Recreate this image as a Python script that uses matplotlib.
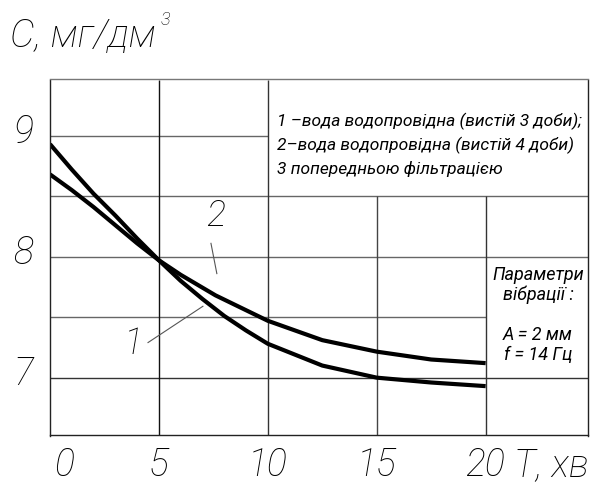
import numpy as np
import matplotlib
matplotlib.use("Agg")
import matplotlib.pyplot as plt
from matplotlib.transforms import ScaledTranslation

# Шрифт (тонкий курсив, ближче до креслярського)
plt.rcParams['font.family'] = ['Roboto', 'DejaVu Sans']
plt.rcParams['font.style'] = 'italic'
plt.rcParams['font.weight'] = 'light'

# Дані
t1 = [0, 1, 2, 3, 4, 5, 6, 7, 8, 9, 10, 12.5, 15, 17.5, 20]
c1 = [8.93, 8.72, 8.52, 8.34, 8.15, 7.97, 7.80, 7.65, 7.51, 7.39, 7.28, 7.10, 7.00, 6.96, 6.93]
t2 = [0, 1, 2, 3, 4, 5, 6, 7.6, 10, 12.5, 15, 17.5, 20]
c2 = [8.68, 8.55, 8.41, 8.26, 8.11, 7.97, 7.85, 7.68, 7.47, 7.31, 7.215, 7.15, 7.12]

x_ticks = [0, 5, 10, 15, 20]
x_labels = ["0", "5", "10", "15", "20"]
y_ticks = [7, 8, 9]
y_labels = ["7", "8", "9"]

legend_lines = ["1 –вода водопровідна (вистій 3 доби);",
                "2–вода водопровідна (вистій 4 доби)",
                "3 попередньою фільтрацією"]
param_lines = ["Параметри", "вібрації :", "", "A = 2 мм", "f = 14 Гц"]

fig = plt.figure(figsize=(6.08, 4.86), dpi=100)
ax = fig.add_axes([50/608, 1 - 435.5/486, 538/608, 356/486])
ax.set_xlim(0, 24.7)
ax.set_ylim(6.522, 9.464)

# Сітка (частково обірвана, як на рисунку)
hgray = "#666666"
ax.hlines(9, 0, 10, color=hgray, lw=1)
ax.hlines(8.5, 0, 24.7, color=hgray, lw=1)
ax.hlines(8, 0, 24.7, color=hgray, lw=1)
ax.hlines(7.5, 0, 20, color=hgray, lw=1)
ax.hlines(7, 0, 24.7, color="#333333", lw=1)
ax.vlines(5, 6.522, 9.464, color="#111111", lw=1)
ax.vlines(10, 6.522, 9.464, color="#333333", lw=1)
ax.vlines(15, 6.522, 8.5, color="#444444", lw=1)
ax.vlines(20, 6.522, 8.5, color="#333333", lw=1)
for s in ax.spines.values():
    s.set_linewidth(1)
    s.set_color("#222222")
ax.spines['top'].set_color("#777777")

# Криві
ax.plot(t1, c1, color="black", lw=3, solid_capstyle="butt", solid_joinstyle="round")
ax.plot(t2, c2, color="black", lw=3, solid_capstyle="butt", solid_joinstyle="round")

# Підписи кривих
ax.text(7.6, 8.34, "2", fontsize=26, ha="center", va="center")
ax.plot([7.39, 7.66], [8.11, 7.86], color="#555555", lw=0.8)
ax.text(3.85, 7.28, "1", fontsize=26, ha="center", va="center")
ax.plot([4.5, 7.02], [7.29, 7.59], color="#555555", lw=0.8)

# Осі
ax.set_xticks(x_ticks)
ax.set_xticklabels(x_labels, fontsize=27)
ax.set_yticks(y_ticks)
ax.set_yticklabels(y_labels, fontsize=27)
ax.tick_params(axis='x', length=0, pad=8)
ax.tick_params(axis='y', length=0, pad=12)
lab0 = ax.get_xticklabels()[0]
lab0.set_transform(lab0.get_transform() + ScaledTranslation(0.14, 0, fig.dpi_scale_trans))
for lab in ax.get_yticklabels():
    lab.set_transform(lab.get_transform() + ScaledTranslation(0, 0.07, fig.dpi_scale_trans))

fig.text(514/608, 1 - 465/486, "T, хв", fontsize=27, ha="left", va="center")
title = fig.text(10/608, 1 - 36/486, "C, мг/дм", fontsize=28, ha="left", va="center")
r = fig.canvas.get_renderer()
bb = title.get_window_extent(renderer=r)
fig.text((bb.x1 + 5) / fig.bbox.width, 1 - 20/486, "3", fontsize=13, ha="left", va="center")

# Легенда
for i, line in enumerate(legend_lines):
    fig.text(277/608, 1 - (121 + i*24)/486, line, fontsize=12.5, ha="left", va="center",
             fontweight="normal")

# Параметри вібрації
for i, line in enumerate(param_lines):
    if line:
        fig.text(538/608, 1 - (275 + i*20)/486, line, fontsize=13, ha="center", va="center",
                 fontweight="normal")

fig.savefig("out.png", dpi=100, facecolor="white")
